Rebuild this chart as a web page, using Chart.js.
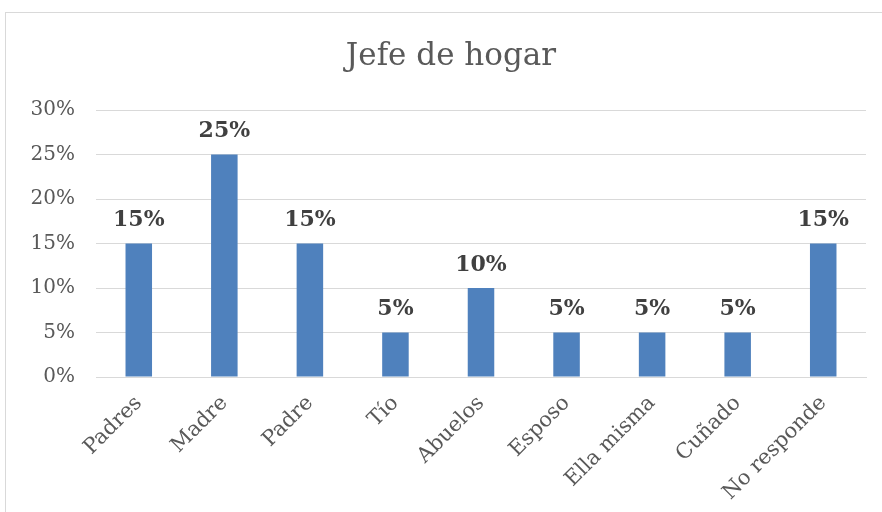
<!DOCTYPE html>
<html>
<head>
<meta charset="utf-8">
<script src="https://cdn.jsdelivr.net/npm/chart.js@4/dist/chart.umd.min.js"></script>
<style>
html,body{margin:0;padding:0;background:#fff;}
#wrap{position:absolute;left:0;top:0;width:882px;height:512px;}
</style>
</head>
<body>
<div id="wrap"><canvas id="c" width="882" height="512"></canvas></div>
<script>
const categories = ["Padres","Madre","Padre","Tío","Abuelos","Esposo","Ella misma","Cuñado","No responde"];
const values = [15,25,15,5,10,5,5,5,15];
const titleText = "Jefe de hogar";
const yMin = 0, yMax = 30, yStep = 5;

const FONT = "'DejaVu Serif', serif";

const frame = {
  id:'frame',
  beforeDraw(chart){
    const ctx = chart.ctx;
    ctx.save();
    ctx.fillStyle = '#fff';
    ctx.fillRect(0,0,chart.width,chart.height);
    ctx.strokeStyle = '#d9d9d9';
    ctx.lineWidth = 1;
    ctx.strokeRect(5.5,12.5,1000,1000);
    ctx.restore();
  },
  afterDraw(chart){
    const ctx = chart.ctx;
    ctx.save();
    ctx.fillStyle = '#595959';
    ctx.font = "31px " + FONT;
    ctx.textAlign = 'center';
    ctx.textBaseline = 'middle';
    ctx.fillText(titleText, 451, 57);
    ctx.restore();
  }
};

const dataLabels = {
  id:'dataLabels',
  afterDatasetsDraw(chart){
    const ctx = chart.ctx;
    const meta = chart.getDatasetMeta(0);
    ctx.save();
    ctx.fillStyle = '#404040';
    ctx.font = "bold 22px " + FONT;
    ctx.textAlign = 'center';
    ctx.textBaseline = 'middle';
    meta.data.forEach((bar,i)=>{
      ctx.fillText(values[i] + '%', bar.x, bar.y - 23);
    });
    ctx.restore();
  }
};

new Chart(document.getElementById('c'), {
  type:'bar',
  data:{
    labels: categories,
    datasets:[{
      data: values,
      backgroundColor:'#4F81BD',
      borderWidth:0,
      barPercentage:0.31,
      categoryPercentage:1.0
    }]
  },
  options:{
    responsive:false,
    animation:false,
    devicePixelRatio:1,
    layout:{padding:{left:0,right:16,top:110,bottom:0}},
    plugins:{legend:{display:false},title:{display:false},tooltip:{enabled:false}},
    scales:{
      x:{
        grid:{display:false, drawTicks:false},
        border:{display:true,color:'#d9d9d9',width:1},
        ticks:{
          color:'#595959',
          font:{family:FONT,size:21},
          minRotation:45,maxRotation:45,
          padding:14,
          autoSkip:false
        },
        afterFit(scale){ scale.height = 512 - 377; }
      },
      y:{
        min:yMin,max:yMax,
        grid:{color:'#d9d9d9',drawTicks:false,lineWidth:1},
        border:{display:false},
        ticks:{
          stepSize:yStep,
          color:'#595959',
          font:{family:FONT,size:20},
          padding:21,
          callback:(v)=>v+'%'
        },
        afterFit(scale){ scale.width = 96; }
      }
    }
  },
  plugins:[frame,dataLabels]
});
</script>
</body>
</html>
